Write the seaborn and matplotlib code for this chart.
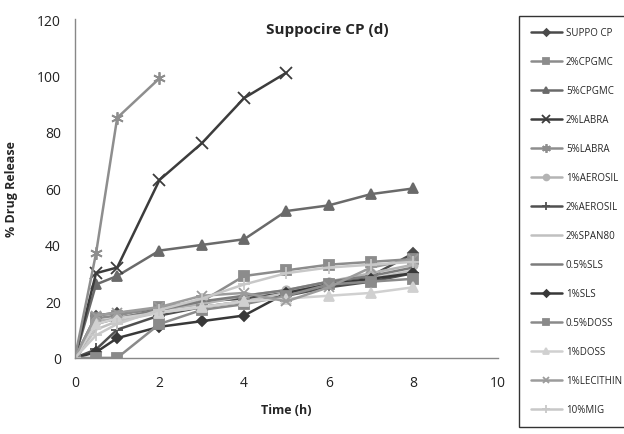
import matplotlib
matplotlib.use("Agg")
import matplotlib.pyplot as plt
import seaborn as sns
import numpy as np
import pandas as pd

sns.set_theme(style="white")
plt.rcParams['font.family'] = ['Open Sans', 'DejaVu Sans']

time_full = [0, 0.5, 1, 2, 3, 4, 5, 6, 7, 8]

series_names = ["SUPPO CP", "2%CPGMC", "5%CPGMC", "2%LABRA", "5%LABRA", "1%AEROSIL",
                "2%AEROSIL", "2%SPAN80", "0.5%SLS", "1%SLS", "0.5%DOSS", "1%DOSS",
                "1%LECITHIN", "10%MIG"]

suppo_cp    = [0, 15, 16, 17, 20, 21, 23, 26, 29, 37]
cpgmc_2     = [0, 14, 15, 18, 20, 29, 31, 33, 34, 35]
cpgmc_5     = [0, 26, 29, 38, 40, 42, 52, 54, 58, 60]
labra_2     = [0, 30, 32, 63, 76, 92, 101]
labra_5     = [0, 37, 85, 99]
aerosil_1   = [0, 13, 14, 17, 19, 22, 24, 27, 30, 33]
aerosil_2   = [0, 3, 10, 15, 18, 20, 22, 25, 27, 30]
span80_2    = [0, 10, 13, 16, 18, 20, 23, 26, 28, 31]
sls_05      = [0, 12, 14, 17, 20, 22, 24, 27, 29, 32]
sls_1       = [0, 2, 7, 11, 13, 15, 23, 26, 28, 30]
doss_05     = [0, 0, 0, 12, 17, 19, 22, 26, 27, 28]
doss_1      = [0, 12, 14, 16, 18, 20, 21, 22, 23, 25]
lecithin_1  = [0, 15, 16, 18, 22, 23, 20, 25, 32, 35]
mig_10      = [0, 8, 12, 17, 21, 26, 30, 32, 33, 34]

values = [suppo_cp, cpgmc_2, cpgmc_5, labra_2, labra_5, aerosil_1, aerosil_2,
          span80_2, sls_05, sls_1, doss_05, doss_1, lecithin_1, mig_10]

colors = ["#4a4a4a", "#8c8c8c", "#6a6a6a", "#3c3c3c", "#8e8e8e", "#b4b4b4", "#505050",
          "#c0c0c0", "#7c7c7c", "#383838", "#8a8a8a", "#d0d0d0", "#9c9c9c", "#c8c8c8"]
markers = ["D", "s", "^", "x", (6, 2, 0), "o", "+", None, None, "D", "s", "^", "x", "+"]
msizes = [5, 7, 7, 8, 9, 6, 8, 0, 0, 5, 7, 7, 7, 8]

fig = plt.figure(figsize=(6.24, 4.35), dpi=100)
ax = fig.add_axes([0.12, 0.175, 0.678, 0.779])

for name, vals, c, m, ms in zip(series_names, values, colors, markers, msizes):
    df = pd.DataFrame({"t": time_full[:len(vals)], "v": vals})
    kw = dict(x="t", y="v", data=df, ax=ax, color=c, linewidth=1.8, label=name,
              estimator=None, sort=False)
    if m is not None:
        kw.update(marker=m, markersize=ms, markeredgecolor=c, markeredgewidth=1.3)
    sns.lineplot(**kw)

handles, labels = ax.get_legend_handles_labels()
if ax.get_legend() is not None:
    ax.get_legend().remove()

ax.set_xlim(0, 10)
ax.set_ylim(0, 120)
ax.set_xticks(np.arange(0, 11, 2))
ax.set_yticks(np.arange(0, 121, 20))
for s in ["top", "right"]:
    ax.spines[s].set_visible(False)
for s in ["left", "bottom"]:
    ax.spines[s].set_color("#888888")
    ax.spines[s].set_linewidth(1.0)
ax.tick_params(axis="both", which="both", length=4, width=1, color="#888888",
               direction="out", labelsize=10, labelcolor="#222222", pad=6)
ax.tick_params(axis="x", pad=8)
ax.set_xlabel("Time (h)", fontsize=9, fontweight="bold", labelpad=10)
ax.set_ylabel("% Drug Release", fontsize=9, fontweight="bold", labelpad=14)
ax.margins(0)

fig.text(0.524, 0.93, "Suppocire CP (d)", fontsize=11, fontweight="bold",
         ha="center", va="center")

leg = fig.legend(handles, labels, loc="upper left", bbox_to_anchor=(0.832, 0.962),
                 frameon=True, fancybox=False, edgecolor="black", fontsize=7,
                 handlelength=3.2, labelspacing=1.85, borderpad=1.2,
                 handletextpad=0.4, markerscale=0.7, borderaxespad=0)
leg.get_frame().set_linewidth(1.0)

fig.savefig("out.png", dpi=100)
